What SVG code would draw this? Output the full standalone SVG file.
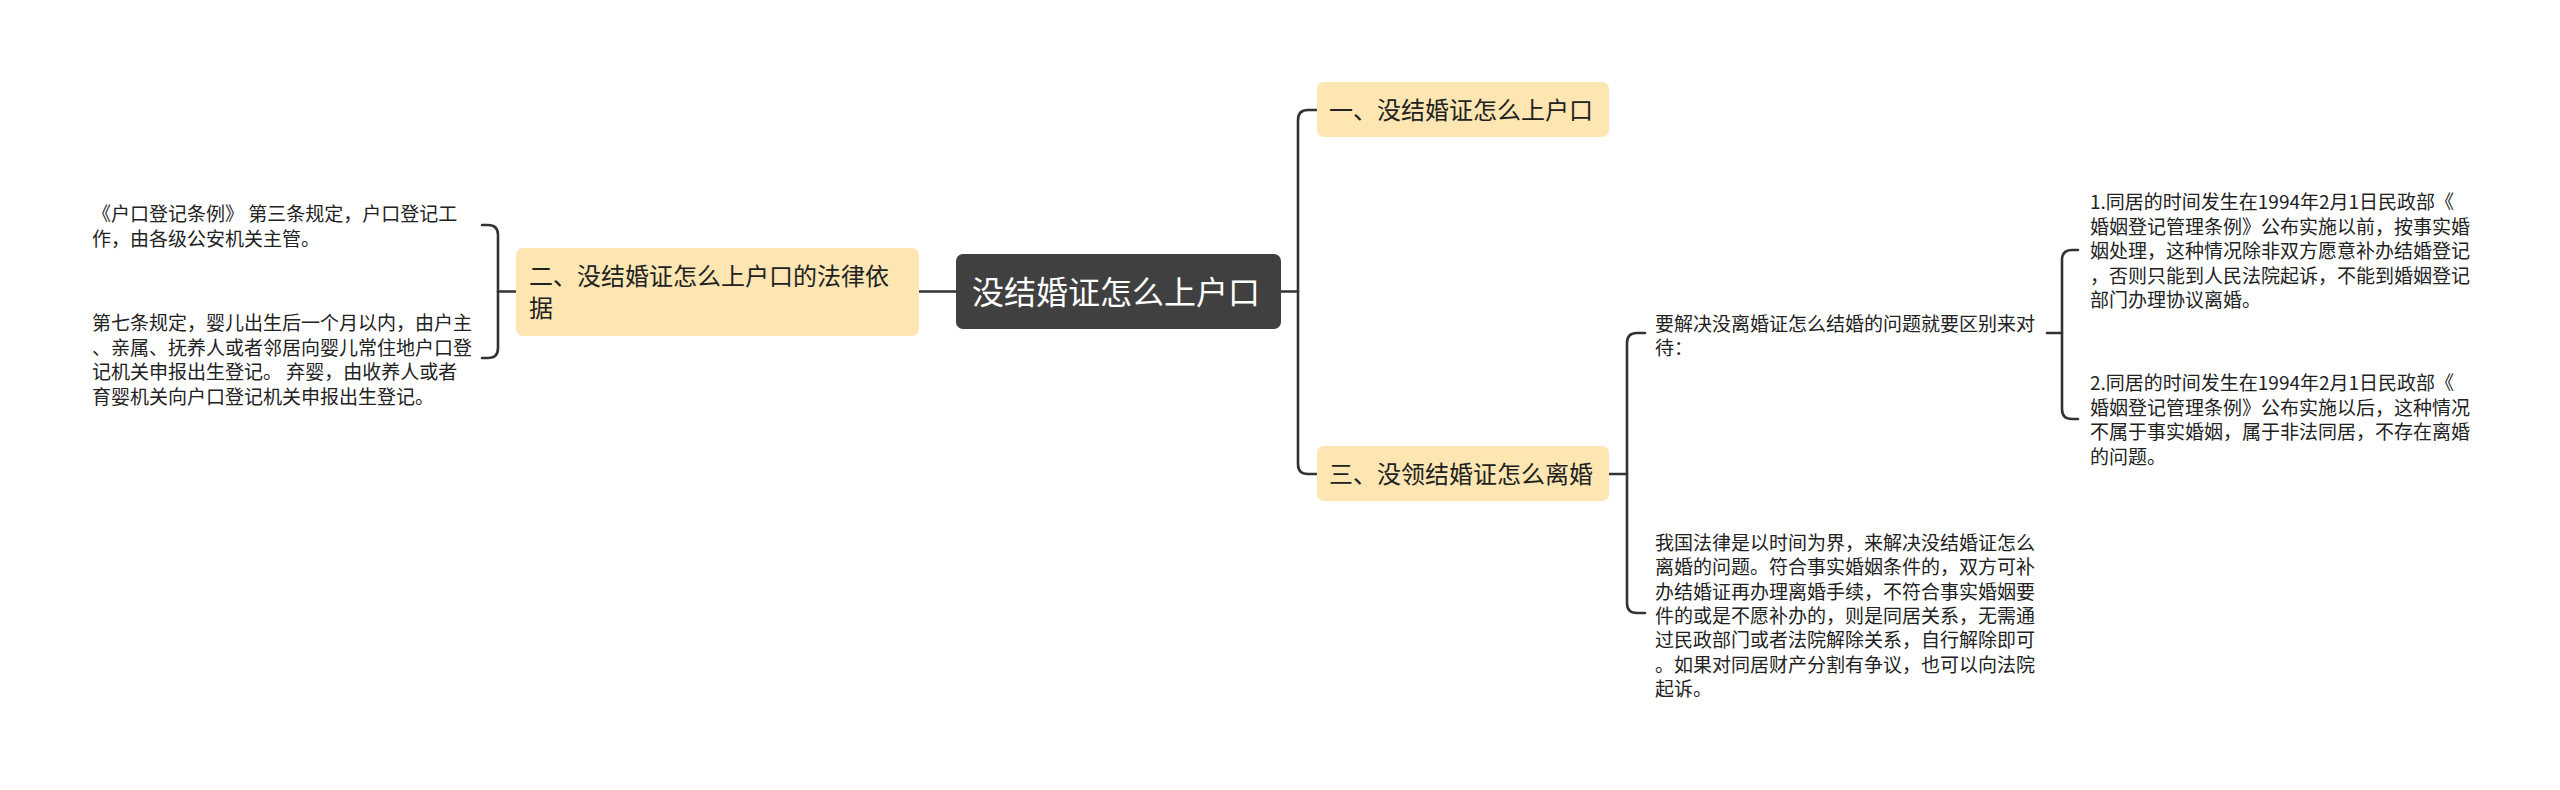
<svg xmlns="http://www.w3.org/2000/svg" width="2560" height="790" viewBox="0 0 2560 790">
<style>
.bg{fill:#ffffff}
.conn{fill:none;stroke:#333333;stroke-width:2.6;stroke-linecap:round;stroke-linejoin:round}
.main{fill:#404040}
.sub{fill:#FDE6B2}
.t{font-family:"Noto Sans CJK SC","Noto Sans",sans-serif;fill:#222222;white-space:pre}
.tm{font-size:32px;fill:#ffffff}
.ts{font-size:24px}
.tl{font-size:19px}
</style>
<rect class="bg" x="0" y="0" width="2560" height="790"/>
<g id="connectors">
<path class="conn" d="M919,291.5 H956"/>
<path class="conn" d="M1281,291.5 H1298"/>
<path class="conn" d="M1317,110 H1308 Q1298,110 1298,120 V464 Q1298,474 1308,474 H1317"/>
<path class="conn" d="M516,291.5 H498"/>
<path class="conn" d="M482,225 H488 Q498,225 498,235 V348 Q498,358 488,358 H482"/>
<path class="conn" d="M1609,474 H1627"/>
<path class="conn" d="M1645,333 H1637 Q1627,333 1627,343 V603 Q1627,613 1637,613 H1645"/>
<path class="conn" d="M2047,333 H2062"/>
<path class="conn" d="M2078,250 H2072 Q2062,250 2062,260 V409 Q2062,419 2072,419 H2078"/>
</g>
<g id="root">
<rect class="main" x="956" y="254" width="325" height="75" rx="7"/>
<text class="t tm" x="972" y="303.5">没结婚证怎么上户口</text>
</g>
<g id="n1">
<rect class="sub" x="1317" y="82" width="292" height="55" rx="7"/>
<text class="t ts" x="1329" y="119">一、没结婚证怎么上户口</text>
</g>
<g id="n2">
<rect class="sub" x="516" y="248" width="403" height="88" rx="7"/>
<text class="t ts" x="529" y="284.5">二、没结婚证怎么上户口的法律依</text>
<text class="t ts" x="529" y="317">据</text>
</g>
<g id="n3">
<rect class="sub" x="1317" y="446" width="292" height="55" rx="7"/>
<text class="t ts" x="1329" y="483">三、没领结婚证怎么离婚</text>
</g>
<g id="l1">
<text class="t tl" x="92" y="220.5">《户口登记条例》 第三条规定，户口登记工</text>
<text class="t tl" x="92" y="245.5">作，由各级公安机关主管。</text>
</g>
<g id="l2">
<text class="t tl" x="92" y="330">第七条规定，婴儿出生后一个月以内，由户主</text>
<text class="t tl" x="92" y="354.5">、亲属、抚养人或者邻居向婴儿常住地户口登</text>
<text class="t tl" x="92" y="379">记机关申报出生登记。 弃婴，由收养人或者</text>
<text class="t tl" x="92" y="403.5">育婴机关向户口登记机关申报出生登记。</text>
</g>
<g id="r1">
<text class="t tl" x="1655" y="330.5">要解决没离婚证怎么结婚的问题就要区别来对</text>
<text class="t tl" x="1655" y="355">待：</text>
</g>
<g id="r2">
<text class="t tl" x="1655" y="550">我国法律是以时间为界，来解决没结婚证怎么</text>
<text class="t tl" x="1655" y="574.3">离婚的问题。符合事实婚姻条件的，双方可补</text>
<text class="t tl" x="1655" y="598.6">办结婚证再办理离婚手续，不符合事实婚姻要</text>
<text class="t tl" x="1655" y="622.9">件的或是不愿补办的，则是同居关系，无需通</text>
<text class="t tl" x="1655" y="647.2">过民政部门或者法院解除关系，自行解除即可</text>
<text class="t tl" x="1655" y="671.5">。如果对同居财产分割有争议，也可以向法院</text>
<text class="t tl" x="1655" y="695.8">起诉。</text>
</g>
<g id="r1a">
<text class="t tl" x="2090" y="209">1.同居的时间发生在1994年2月1日民政部《</text>
<text class="t tl" x="2090" y="233.5">婚姻登记管理条例》公布实施以前，按事实婚</text>
<text class="t tl" x="2090" y="258">姻处理，这种情况除非双方愿意补办结婚登记</text>
<text class="t tl" x="2090" y="282.5">，否则只能到人民法院起诉，不能到婚姻登记</text>
<text class="t tl" x="2090" y="307">部门办理协议离婚。</text>
</g>
<g id="r1b">
<text class="t tl" x="2090" y="390">2.同居的时间发生在1994年2月1日民政部《</text>
<text class="t tl" x="2090" y="414.5">婚姻登记管理条例》公布实施以后，这种情况</text>
<text class="t tl" x="2090" y="439">不属于事实婚姻，属于非法同居，不存在离婚</text>
<text class="t tl" x="2090" y="463.5">的问题。</text>
</g>
</svg>
